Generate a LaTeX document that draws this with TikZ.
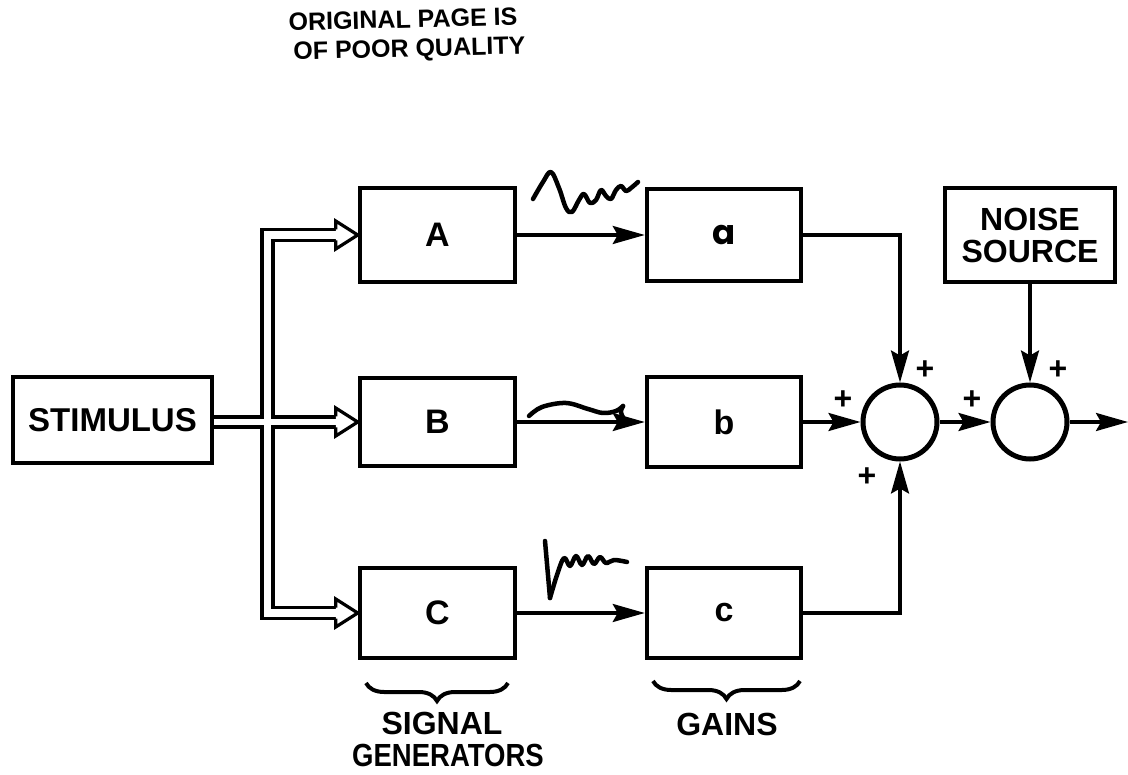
\documentclass[tikz,border=0pt]{standalone}
\usepackage{fontspec}
\setmainfont{Liberation Sans}
\newfontfamily\popp{Poppins}
\usetikzlibrary{arrows.meta,calc,decorations.pathreplacing}
\newcommand\hhead[1]{\draw[pipe, fill=white] ($(#1.west)+(-22,-5.5)$) -- ++(0,-8.5) -- (#1.west) -- ($(#1.west)+(-22,14)$) -- ++(0,-8.5);}
\begin{document}
\begin{tikzpicture}[x=1pt,y=-1pt,
 blk/.style={draw, line width=4.5pt, rectangle, inner sep=0pt, font=\fontsize{34}{36}\selectfont\bfseries},
 conn/.style={line width=3.2pt, -{Stealth[length=32pt,width=18pt,inset=5pt]}},
 pipe/.style={line width=3.2pt, line join=miter},
 sumj/.style={draw, circle, line width=5pt, minimum size=74pt, inner sep=0pt},
 pls/.style={font=\fontsize{32}{32}\selectfont\bfseries, inner sep=0pt},
 wave/.style={line width=4.5pt, line cap=round, line join=round},
 lbl/.style={font=\fontsize{32}{32}\selectfont\bfseries, inner sep=0pt},
 brc/.style={line width=4pt, decorate, decoration={brace, mirror, amplitude=18pt}},
 ttl/.style={font=\fontsize{25}{29}\selectfont\bfseries, inner sep=0pt, rotate=1.5, align=left}
]
\useasboundingbox (0,0) rectangle (1128,775);

% title
\node[ttl] (t1) at (407,36) {ORIGINAL PAGE IS\\\hspace*{4pt}OF POOR QUALITY};

% blocks
\node[blk, minimum width=199pt, minimum height=86pt, font=\fontsize{33}{36}\selectfont\bfseries] (STIM) at (112.5,420) {STIMULUS};
\node[blk, minimum width=155pt, minimum height=94pt] (A) at (437.5,235) {A};
\node[blk, minimum width=155pt, minimum height=88pt] (B) at (437.5,422) {B};
\node[blk, minimum width=155pt, minimum height=90pt] (C) at (437.5,613) {C};
\node[blk, minimum width=154pt, minimum height=92pt, font=\fontsize{34}{36}\selectfont\popp\bfseries] (a) at (724,235) {a};
\node[blk, minimum width=154pt, minimum height=90pt] (b) at (724,422) {b};
\node[blk, minimum width=154pt, minimum height=90pt] (c) at (724,613) {c};
\node[blk, minimum width=170pt, minimum height=94pt, align=center, font=\fontsize{32}{32}\selectfont\bfseries] (NS) at (1030,235) {NOISE\\SOURCE};
\node[sumj] (S1) at (900,422) {};
\node[sumj] (S2) at (1030,422) {};
\coordinate (out) at (1128,422);

% double-line pipes from stimulus
\draw[pipe] (STIM.east |- 0,417) -- (262,417) -- (262,229.5) -- (338,229.5);
\draw[pipe] (338,240.5) -- (273,240.5) -- (273,417) -- (338,417);
\draw[pipe] (338,427) -- (273,427) -- (273,607.5) -- (338,607.5);
\draw[pipe] (STIM.east |- 0,427) -- (262,427) -- (262,618.5) -- (338,618.5);
\hhead{A}
\hhead{B}
\hhead{C}

% connectors
\draw[conn] (A) -- (a);
\draw[conn] (B) -- (b);
\draw[conn] (C) -- (c);
\draw[conn] (a.east) -| (S1.north);
\draw[conn] (b) -- (S1);
\draw[conn] (c.east) -| (S1.south);
\draw[conn] (S1) -- (S2);
\draw[conn] (NS) -- (S2);
\draw[conn] (S2) -- (out);

% plus signs
\node[pls] (p1) at (925,370) {+};
\node[pls] (p2) at (843,400) {+};
\node[pls] (p3) at (867,477) {+};
\node[pls] (p4) at (972,400) {+};
\node[pls] (p5) at (1058,370) {+};

% waveforms
\draw[wave] plot[smooth, tension=0.6] coordinates {(533,199) (543,182) (551,172) (559,188) (566,208) (572,212) (579,200) (584,194) (590,203) (596,200) (601,190) (606,196) (611,199) (616,190) (621,186) (626,191) (631,188) (638,182)};
\draw[wave] plot[smooth, tension=0.6] coordinates {(529,416) (542,407) (566,403) (588,409) (603,413) (616,411) (623,406)};
\draw[wave] (623,406) .. controls (620,412) .. (624,419);
\draw[wave] (545,541) -- (550,598);
\draw[wave] plot[smooth, tension=0.6] coordinates {(550,598) (557,575) (564,558) (570,566) (576,556) (582,565) (588,556) (594,564) (600,557) (606,563) (614,560) (627,562)};

% braces and labels
\draw[brc] (366,683) -- (508,683);
\draw[brc] (653,681) -- (800,681);
\node[lbl] (sg) at (442,723) {SIGNAL};
\node[lbl] (gen) at (448,755) {\scalebox{0.86}[1]{GENERATORS}};
\node[lbl] (gn) at (727,724) {GAINS};
\end{tikzpicture}
\end{document}
